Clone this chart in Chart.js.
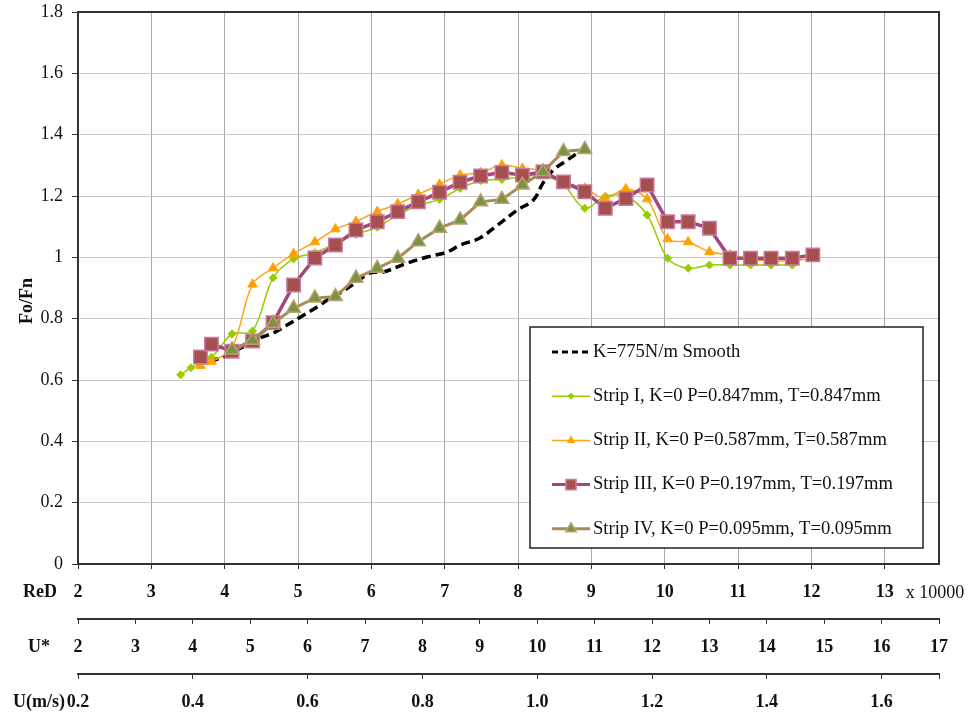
<!DOCTYPE html>
<html>
<head>
<meta charset="utf-8">
<script src="https://cdn.jsdelivr.net/npm/chart.js@4.4.1/dist/chart.umd.min.js"></script>
<style>
  html, body { margin: 0; padding: 0; background: #ffffff; }
  #wrap { width: 971px; height: 717px; position: relative; }
</style>
</head>
<body>
<div id="wrap"><canvas id="c" width="971" height="717"></canvas></div>
<script>
// ---------- tick labels ----------
const reDTicks = [2, 3, 4, 5, 6, 7, 8, 9, 10, 11, 12, 13];
const uStarTicks = [2, 3, 4, 5, 6, 7, 8, 9, 10, 11, 12, 13, 14, 15, 16, 17];
const uMsTicks = [0.2, 0.4, 0.6, 0.8, 1.0, 1.2, 1.4, 1.6];
const yTicks = [0, 0.2, 0.4, 0.6, 0.8, 1, 1.2, 1.4, 1.6, 1.8];

// ---------- series (ReD in units of 10000, Fo/Fn) ----------
const smoothReD  = [3.80, 4.03, 4.25, 4.48, 4.66, 4.85, 5.03, 5.26, 5.40, 5.57, 5.78, 5.98, 6.16, 6.49, 6.76, 7.03, 7.21, 7.48, 7.72, 7.99, 8.21, 8.34, 8.48, 8.67, 8.89];
const smoothFoFn = [0.659, 0.681, 0.708, 0.737, 0.753, 0.779, 0.805, 0.838, 0.861, 0.884, 0.916, 0.949, 0.952, 0.981, 1.001, 1.017, 1.040, 1.063, 1.105, 1.154, 1.187, 1.242, 1.285, 1.317, 1.353];

const strip1ReD  = [3.40, 3.54, 3.82, 4.10, 4.38, 4.66, 4.94, 5.23, 5.51, 5.79, 6.08, 6.36, 6.64, 6.93, 7.21, 7.49, 7.78, 8.06, 8.34, 8.62, 8.91, 9.19, 9.47, 9.76, 10.04, 10.32, 10.61, 10.89, 11.17, 11.45, 11.74];
const strip1FoFn = [0.617, 0.640, 0.674, 0.750, 0.760, 0.933, 0.995, 1.015, 1.045, 1.075, 1.098, 1.138, 1.170, 1.189, 1.225, 1.250, 1.254, 1.262, 1.268, 1.236, 1.160, 1.199, 1.199, 1.138, 0.997, 0.964, 0.975, 0.975, 0.975, 0.975, 0.975];

const strip2ReD  = [3.67, 3.82, 4.10, 4.38, 4.66, 4.94, 5.23, 5.51, 5.79, 6.08, 6.36, 6.64, 6.93, 7.21, 7.49, 7.78, 8.06, 8.34, 8.62, 8.91, 9.19, 9.47, 9.76, 10.04, 10.32, 10.61, 10.89, 11.17, 11.45, 11.74, 12.02];
const strip2FoFn = [0.647, 0.660, 0.705, 0.912, 0.965, 1.012, 1.050, 1.092, 1.117, 1.149, 1.174, 1.205, 1.238, 1.268, 1.276, 1.301, 1.290, 1.283, 1.246, 1.225, 1.192, 1.223, 1.190, 1.060, 1.050, 1.018, 1.008, 0.993, 0.989, 0.989, 0.997];

const strip3ReD  = [3.67, 3.82, 4.10, 4.38, 4.66, 4.94, 5.23, 5.51, 5.79, 6.08, 6.36, 6.64, 6.93, 7.21, 7.49, 7.78, 8.06, 8.34, 8.62, 8.91, 9.19, 9.47, 9.76, 10.04, 10.32, 10.61, 10.89, 11.17, 11.45, 11.74, 12.02];
const strip3FoFn = [0.675, 0.717, 0.694, 0.727, 0.787, 0.910, 0.998, 1.040, 1.089, 1.116, 1.149, 1.181, 1.212, 1.245, 1.265, 1.277, 1.268, 1.279, 1.246, 1.214, 1.160, 1.192, 1.236, 1.116, 1.116, 1.095, 0.997, 0.997, 0.997, 0.997, 1.008];

const strip4ReD  = [4.10, 4.38, 4.66, 4.94, 5.23, 5.51, 5.79, 6.08, 6.36, 6.64, 6.93, 7.21, 7.49, 7.78, 8.06, 8.34, 8.62, 8.91];
const strip4FoFn = [0.698, 0.730, 0.785, 0.834, 0.867, 0.872, 0.932, 0.964, 0.997, 1.051, 1.095, 1.122, 1.181, 1.189, 1.236, 1.279, 1.345, 1.352];

const seriesNames = [
  'K=775N/m Smooth',
  'Strip I, K=0 P=0.847mm, T=0.847mm',
  'Strip II, K=0 P=0.587mm, T=0.587mm',
  'Strip III, K=0 P=0.197mm, T=0.197mm',
  'Strip IV, K=0 P=0.095mm, T=0.095mm'
];

const pts = (xs, ys) => xs.map((x, i) => ({ x: x, y: ys[i] }));
const FAM = '"Liberation Serif", "Times New Roman", Times, serif';

const datasets = [
  { label: seriesNames[0], data: pts(smoothReD, smoothFoFn), order: 4,
    borderColor: '#000000', borderWidth: 3.5, borderDash: [9, 5], tension: 0.35,
    pointRadius: 0, fill: false },
  { label: seriesNames[1], data: pts(strip1ReD, strip1FoFn), order: 3,
    borderColor: '#99cc00', borderWidth: 1.5, tension: 0.35,
    pointStyle: 'rectRot', pointRadius: 4, pointBackgroundColor: '#99cc00', pointBorderColor: '#99cc00', pointBorderWidth: 1, fill: false },
  { label: seriesNames[2], data: pts(strip2ReD, strip2FoFn), order: 2,
    borderColor: '#ffa31a', borderWidth: 1.5, tension: 0.35,
    pointStyle: 'triangle', pointRadius: 5.5, pointBackgroundColor: '#ffa200', pointBorderColor: '#ffa200', pointBorderWidth: 1, fill: false },
  { label: seriesNames[3], data: pts(strip3ReD, strip3FoFn), order: 1,
    borderColor: '#a4477a', borderWidth: 3.5, tension: 0,
    pointStyle: 'rect', pointRadius: 9.5, pointBackgroundColor: '#a5504e', pointBorderColor: '#c97aa0', pointBorderWidth: 1.5, fill: false },
  { label: seriesNames[4], data: pts(strip4ReD, strip4FoFn), order: 0,
    borderColor: '#a68b58', borderWidth: 3, tension: 0,
    pointStyle: 'triangle', pointRadius: 8, pointBackgroundColor: '#7a9444', pointBorderColor: '#b8a070', pointBorderWidth: 1.5, fill: false }
];

const extrasPlugin = {
  id: 'extras',
  afterDraw(chart) {
    const { ctx, chartArea: ca, scales } = chart;
    ctx.save();
    // frame (top + right)
    ctx.strokeStyle = '#333333';
    ctx.lineWidth = 2;
    ctx.beginPath();
    ctx.moveTo(ca.left, ca.top);
    ctx.lineTo(ca.right, ca.top);
    ctx.lineTo(ca.right, ca.bottom);
    ctx.stroke();

    // y title
    ctx.fillStyle = '#111111';
    ctx.font = 'bold 18px ' + FAM;
    ctx.textAlign = 'center';
    ctx.textBaseline = 'middle';
    ctx.save();
    ctx.translate(27, (ca.top + ca.bottom) / 2 + 13);
    ctx.rotate(-Math.PI / 2);
    ctx.fillText('Fo/Fn', 0, 0);
    ctx.restore();

    // bottom axis names
    const off = 28.8;
    ctx.fillText('ReD', 40, scales.x.top + off);
    ctx.fillText('U*', 39, scales.u.top + off);
    ctx.fillText('U(m/s)', 39, scales.m.top + off);
    ctx.font = '18px ' + FAM;
    ctx.textAlign = 'left';
    ctx.fillText('x 10000', scales.x.getPixelForValue(13) + 21, scales.x.top + off);

    // legend box
    const bx = ca.left + 452, by = ca.top + 315, bw = 393, bh = 221;
    ctx.fillStyle = '#ffffff';
    ctx.fillRect(bx, by, bw, bh);
    ctx.strokeStyle = '#222222';
    ctx.lineWidth = 1.5;
    ctx.strokeRect(bx, by, bw, bh);
    const x0 = bx + 22, x1 = bx + 60, xm = (x0 + x1) / 2;
    chart.data.datasets.forEach((ds, i) => {
      const y = by + 25 + 44.2 * i;
      ctx.save();
      ctx.strokeStyle = ds.borderColor;
      ctx.lineWidth = Math.min(ds.borderWidth, 3);
      ctx.setLineDash(ds.borderDash ? [6, 4] : []);
      ctx.beginPath();
      ctx.moveTo(x0, y);
      ctx.lineTo(x1, y);
      ctx.stroke();
      ctx.setLineDash([]);
      if (ds.pointRadius > 0) {
        ctx.fillStyle = ds.pointBackgroundColor;
        ctx.strokeStyle = ds.pointBorderColor;
        ctx.lineWidth = ds.pointBorderWidth;
        Chart.helpers.drawPoint(ctx, { pointStyle: ds.pointStyle, radius: ds.pointRadius * 0.75, rotation: 0, borderWidth: ds.pointBorderWidth }, xm, y);
      }
      ctx.restore();
      ctx.fillStyle = '#111111';
      ctx.font = '18.6px ' + FAM;
      ctx.textAlign = 'left';
      ctx.textBaseline = 'middle';
      ctx.fillText(ds.label, x1 + 3, y);
    });
    ctx.restore();
  }
};

const tickFontBold = { family: FAM, size: 18, weight: 'bold' };
const tickFont = { family: FAM, size: 18, weight: 'normal' };

new Chart(document.getElementById('c'), {
  type: 'line',
  data: { datasets: datasets },
  options: {
    responsive: false,
    animation: false,
    devicePixelRatio: 1,
    layout: { padding: { top: 12, right: 32, left: 0, bottom: 0 } },
    plugins: { legend: { display: false }, tooltip: { enabled: false } },
    scales: {
      x: {
        type: 'linear', position: 'bottom', min: 2, max: 13.74, weight: 0,
        afterBuildTicks: s => { s.ticks = reDTicks.map(v => ({ value: v })); },
        afterFit: s => { s.height = 55; },
        grid: { color: '#a8a8a8', lineWidth: 1, tickColor: '#333333', tickLength: 5 },
        border: { color: '#333333', width: 2 },
        ticks: { font: tickFontBold, color: '#111111', padding: 13, maxRotation: 0, autoSkip: false, callback: v => String(v) }
      },
      u: {
        type: 'linear', position: 'bottom', min: 2, max: 17, weight: 1,
        afterBuildTicks: s => { s.ticks = uStarTicks.map(v => ({ value: v })); },
        afterFit: s => { s.height = 55; },
        grid: { drawOnChartArea: false, tickColor: '#333333', tickLength: 5 },
        border: { color: '#333333', width: 2 },
        ticks: { font: tickFontBold, color: '#111111', padding: 13, maxRotation: 0, autoSkip: false, callback: v => String(v) }
      },
      m: {
        type: 'linear', position: 'bottom', min: 0.2, max: 1.7, weight: 2,
        afterBuildTicks: s => { s.ticks = uMsTicks.concat([1.7]).map(v => ({ value: v })); },
        afterFit: s => { s.height = 43; },
        grid: { drawOnChartArea: false, tickColor: '#333333', tickLength: 5 },
        border: { color: '#333333', width: 2 },
        ticks: { font: tickFontBold, color: '#111111', padding: 13, maxRotation: 0, autoSkip: false,
                 callback: v => (uMsTicks.some(t => Math.abs(t - v) < 1e-9) ? Number(v).toFixed(1) : '') }
      },
      y: {
        type: 'linear', position: 'left', min: 0, max: 1.8,
        afterBuildTicks: s => { s.ticks = yTicks.map(v => ({ value: v })); },
        afterFit: s => { s.width = 78; s.paddingTop = 0; s.paddingBottom = 0; },
        grid: { color: '#c6c6c6', lineWidth: 1, tickColor: '#333333', tickLength: 6 },
        border: { color: '#333333', width: 2 },
        ticks: { font: tickFont, color: '#111111', padding: 9, callback: v => String(v) }
      }
    }
  },
  plugins: [extrasPlugin]
});
</script>
</body>
</html>
